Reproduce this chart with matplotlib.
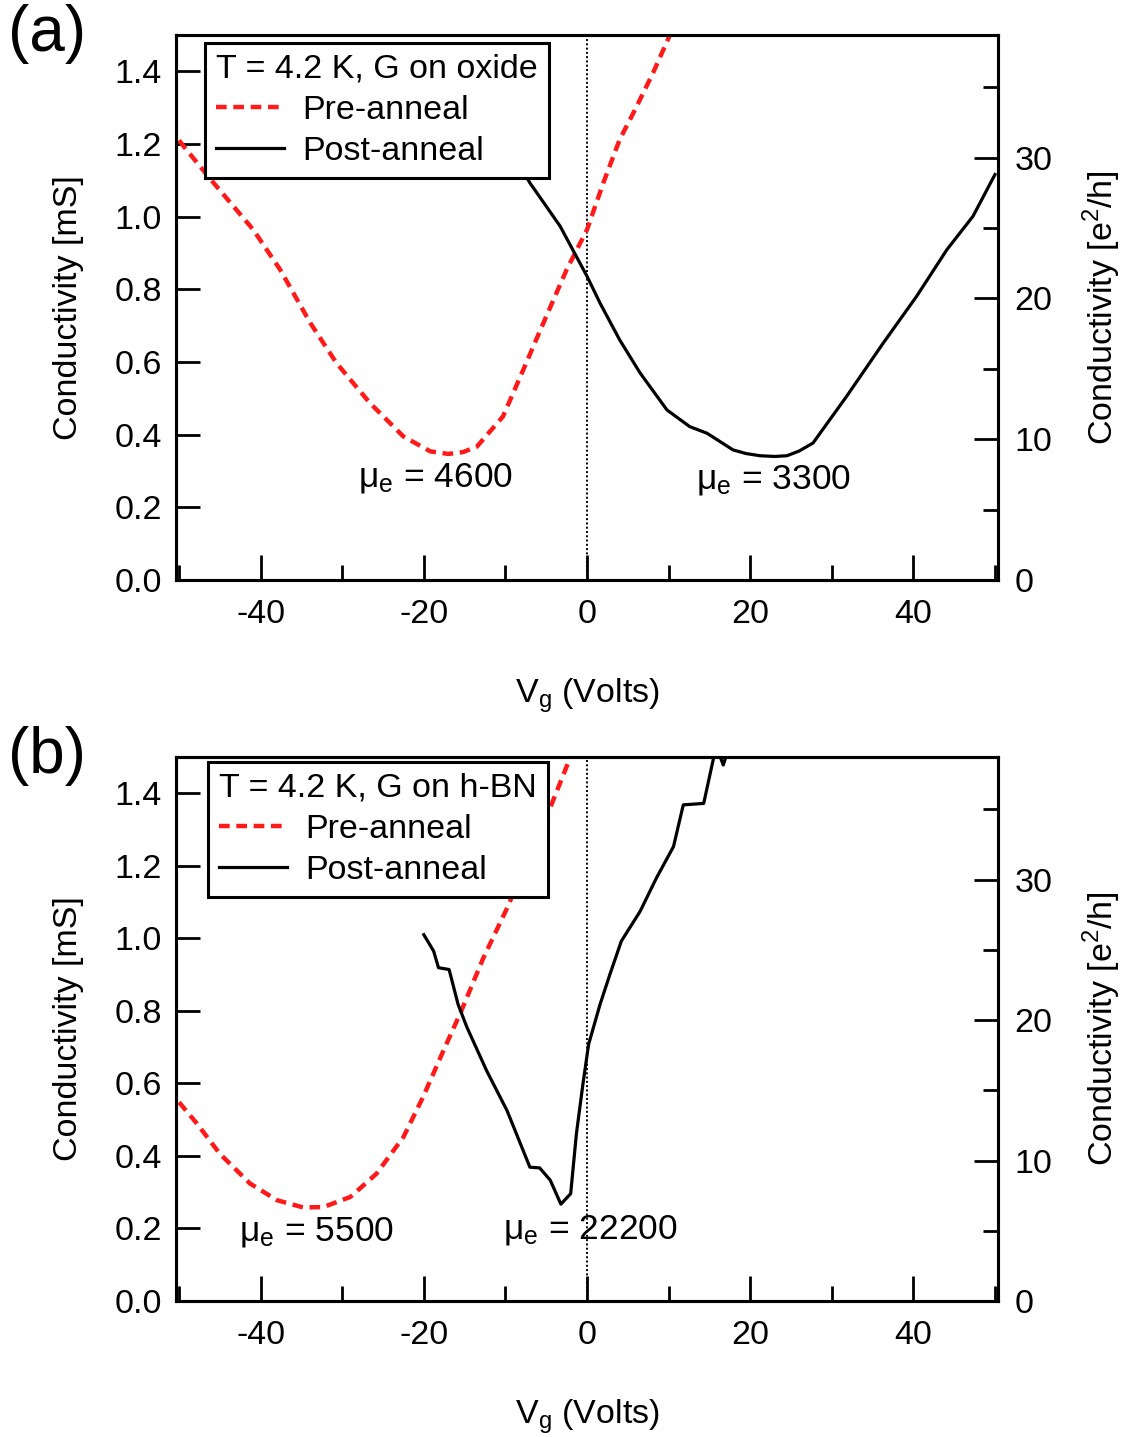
import matplotlib
matplotlib.use("Agg")
import matplotlib.pyplot as plt
from matplotlib.ticker import MultipleLocator, FixedLocator

plt.rcParams['font.family'] = ['Liberation Sans', 'DejaVu Sans']
plt.rcParams['axes.unicode_minus'] = False

# ---------------- data ----------------
# Panel (a): graphene on oxide
a_pre_v = [-50.0, -49.3, -45.8, -40.9, -37.6, -33.9, -30.7, -26.6, -22.5, -19.2, -17.0,
           -15.2, -13.5, -10.3, -7.8, -5.35, -2.5, 0.0, 2.0, 4.0, 5.7, 8.1, 10.2, 11.0]
a_pre_g = [1.21, 1.19, 1.094, 0.964, 0.854, 0.707, 0.597, 0.487, 0.395, 0.354, 0.347,
           0.352, 0.367, 0.45, 0.579, 0.707, 0.854, 0.964, 1.093, 1.212, 1.286, 1.396, 1.502, 1.54]

a_post_v = [-12.0, -9.5, -7.0, -3.3, 0.0, 1.6, 4.0, 6.5, 9.8, 12.6, 14.7, 17.9, 19.5, 21.2,
            23.0, 24.5, 26.0, 27.7, 31.8, 36.3, 40.4, 44.1, 47.3, 50.0]
a_post_g = [1.30, 1.19, 1.093, 0.974, 0.836, 0.762, 0.661, 0.570, 0.468, 0.422, 0.404,
            0.358, 0.348, 0.342, 0.340, 0.342, 0.355, 0.377, 0.505, 0.652, 0.781, 0.909, 1.001, 1.116]

# Panel (b): graphene on h-BN
b_pre_v = [-50.0, -47.8, -45.0, -41.3, -38.0, -34.8, -32.3, -29.0, -25.8, -22.5, -20.1,
           -17.6, -15.4, -12.7, -9.8, -7.0, -4.3, -2.1, -1.5]
b_pre_g = [0.548, 0.489, 0.406, 0.324, 0.278, 0.258, 0.259, 0.287, 0.351, 0.452, 0.562,
           0.690, 0.80, 0.946, 1.083, 1.23, 1.372, 1.496, 1.53]

b_post_v = [-20.0, -18.8, -18.2, -16.9, -15.8, -14.7, -12.3, -9.8, -7.0, -5.8, -4.5,
            -3.2, -2.0, -1.3, -0.5, 0.2, 1.6, 2.8, 4.2, 6.5, 8.5, 10.6, 11.8, 14.3,
            15.5, 16.0, 16.7, 17.3, 18.0]
b_post_g = [1.010, 0.965, 0.919, 0.914, 0.818, 0.754, 0.635, 0.525, 0.369, 0.367, 0.333,
            0.267, 0.296, 0.461, 0.598, 0.708, 0.818, 0.900, 0.992, 1.074, 1.166, 1.253,
            1.368, 1.372, 1.496, 1.52, 1.478, 1.52, 1.56]

panel_titles = ["T = 4.2 K, G on oxide", "T = 4.2 K, G on h-BN"]
panel_tags = ["(a)", "(b)"]
mobility_labels = [["4600", "3300"], ["5500", "22200"]]
mobility_pos = [[(-18.6, 0.28), (22.8, 0.276)], [(-33.2, 0.19), (0.4, 0.195)]]

E2H_PER_MS = 25.813  # 1 mS in units of e^2/h

# ---------------- figure ----------------
W, H = 1126, 1437
fig = plt.figure(figsize=(W / 100, H / 100), dpi=100)

FS = 24.5
axes_px = [(176, 998, 35, 580), (176, 998, 757, 1301)]
pre_data = [(a_pre_v, a_pre_g), (b_pre_v, b_pre_g)]
post_data = [(a_post_v, a_post_g), (b_post_v, b_post_g)]
legend_anchor_px = [(205, 43), (208, 762)]

for i in range(2):
    l, r, t, b = axes_px[i]
    ax = fig.add_axes([l / W, 1 - b / H, (r - l) / W, (b - t) / H])
    ax.set_xlim(-50.37, 50.37)
    ax.set_ylim(0, 1.5)

    ax.axvline(0, color='black', lw=1.4, ls=(0, (1.0, 1.2)), zorder=1)
    ax.plot(*pre_data[i], color='#ff1a1a', lw=3.2, ls=(0, (2.4, 1.5)),
            label='Pre-anneal', zorder=3)
    ax.plot(*post_data[i], color='black', lw=2.3, label='Post-anneal', zorder=3)

    for spine in ax.spines.values():
        spine.set_linewidth(2.2)

    ax.xaxis.set_major_locator(FixedLocator([-40, -20, 0, 20, 40]))
    ax.xaxis.set_minor_locator(FixedLocator([-50, -30, -10, 10, 30, 50]))
    ax.yaxis.set_major_locator(MultipleLocator(0.2))
    ax.set_yticklabels([f"{v:.1f}" for v in ax.get_yticks()])
    ax.tick_params(axis='x', which='major', direction='in', length=18, width=2.0,
                   labelsize=FS, pad=14, top=False)
    ax.tick_params(axis='x', which='minor', direction='in', length=11, width=2.0, top=False)
    ax.tick_params(axis='y', which='major', direction='in', length=17, width=2.0,
                   labelsize=FS, pad=10, right=False)
    ax.set_ylim(0, 1.5)

    ax.set_xlabel(r"V$_\mathregular{g}$ (Volts)", fontsize=FS, labelpad=33)
    ax.set_ylabel("Conductivity [mS]", fontsize=FS, labelpad=22)

    ax2 = ax.twinx()
    ax2.set_ylim(0, 1.5 * E2H_PER_MS)
    ax2.yaxis.set_major_locator(FixedLocator([0, 10, 20, 30]))
    ax2.yaxis.set_minor_locator(FixedLocator([5, 15, 25, 35]))
    ax2.tick_params(axis='y', which='major', direction='in', length=17, width=2.0,
                    labelsize=FS, pad=12)
    ax2.tick_params(axis='y', which='minor', direction='in', length=11, width=2.0)
    for spine in ax2.spines.values():
        spine.set_linewidth(2.2)
    ax2.set_ylabel(r"Conductivity [e$^\mathregular{2}$/h]", fontsize=FS, labelpad=20)

    lx, ly = legend_anchor_px[i]
    leg = ax.legend(loc='upper left',
                    bbox_to_anchor=((lx - l) / (r - l), (b - ly) / (b - t)),
                    borderaxespad=0, title=panel_titles[i], title_fontsize=FS,
                    fontsize=FS, frameon=True, fancybox=False, edgecolor='black',
                    framealpha=1, handlelength=2.0, handletextpad=0.55,
                    labelspacing=0.3, borderpad=0.32, alignment='left')
    leg.get_frame().set_linewidth(2.2)
    leg.set_zorder(10)

    for (xv, yv), lab in zip(mobility_pos[i], mobility_labels[i]):
        ax.text(xv, yv, r"$\mathregular{\mu_e}$ = " + lab, fontsize=FS + 1,
                ha='center', va='center')

    fig.text(8 / W, 1 - (34 + (722 if i else 0)) / H, panel_tags[i], fontsize=46,
             ha='left', va='center')

fig.savefig("out.png", dpi=100)
